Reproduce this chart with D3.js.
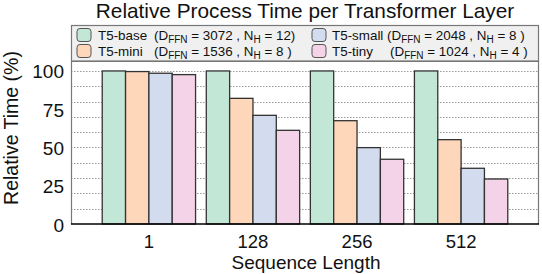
<!DOCTYPE html>
<html>
<head>
<meta charset="utf-8">
<script src="https://cdn.jsdelivr.net/npm/d3@7"></script>
<style>
  body { margin: 0; background: #fff; }
  text { font-family: "Liberation Sans", Arial, sans-serif; fill: #111; }
</style>
</head>
<body>
<script>
// data
const lengths = ['1', '128', '256', '512'];
const models = ['T5-base', 'T5-mini', 'T5-small', 'T5-tiny'];
const dffn = ['3072', '1536', '2048', '1024'];
const nh = ['12', '8 ', '8 ', '4 '];
const base = [100, 100, 100, 100];
const mini = [99.6, 82.1, 67.5, 55.1];
const small = [98.5, 71.0, 49.9, 36.4];
const tiny = [97.6, 61.2, 42.3, 29.4];
const yTicks = [0, 25, 50, 75, 100];
const gridTicks = [10, 20, 30, 40, 50, 60, 70, 80, 90, 100];

const colors = ['#c3e7d7', '#fed6b9', '#d3dcee', '#f4d3e8'];
const series = [base, mini, small, tiny];

const WIDTH = 542, HEIGHT = 274;
const MARGIN = {top: 61, bottom: 50, left: 71, right: 3};

const svg = d3.select('body').append('svg')
    .attr('width', WIDTH)
    .attr('height', HEIGHT);

const xScale = d3.scaleBand()
    .domain(lengths)
    .range([MARGIN.left, WIDTH - MARGIN.right])
    .paddingInner(0.103)
    .paddingOuter(0.30);

const inner = d3.scaleBand()
    .domain(models)
    .range([0, xScale.bandwidth()]);

const yScale = d3.scaleLinear()
    .domain([0, 106.5])
    .range([HEIGHT - MARGIN.bottom, MARGIN.top]);

// dotted grid lines
svg.append('g')
   .selectAll('line')
   .data(gridTicks)
   .enter()
   .append('line')
   .attr('x1', MARGIN.left)
   .attr('x2', WIDTH - MARGIN.right)
   .attr('y1', d => Math.round(yScale(d)) + 0.5)
   .attr('y2', d => Math.round(yScale(d)) + 0.5)
   .attr('stroke', '#999')
   .attr('stroke-width', 1)
   .attr('stroke-dasharray', '1.5,1.5');

// frame (left, top, right)
svg.append('path')
   .attr('d', 'M' + (MARGIN.left + 0.5) + ',' + (HEIGHT - MARGIN.bottom) +
              'V' + (MARGIN.top + 0.5) + 'H' + (WIDTH - MARGIN.right - 0.5) +
              'V' + (HEIGHT - MARGIN.bottom))
   .attr('fill', 'none')
   .attr('stroke', '#777')
   .attr('stroke-width', 1.2);

// bars
lengths.forEach((len, i) => {
    svg.append('g')
       .selectAll('rect')
       .data(series.map((s, j) => ({model: models[j], value: s[i], color: colors[j]})))
       .enter()
       .append('rect')
       .attr('x', d => xScale(len) + inner(d.model))
       .attr('y', d => yScale(d.value))
       .attr('width', inner.bandwidth())
       .attr('height', d => yScale(0) - yScale(d.value))
       .attr('fill', d => d.color)
       .attr('stroke', '#333')
       .attr('stroke-width', 1.3);
});

// bottom axis line
svg.append('line')
   .attr('x1', MARGIN.left)
   .attr('x2', WIDTH - MARGIN.right)
   .attr('y1', yScale(0))
   .attr('y2', yScale(0))
   .attr('stroke', '#000')
   .attr('stroke-width', 1.5);

// x tick labels
svg.append('g')
   .selectAll('text')
   .data(lengths)
   .enter()
   .append('text')
   .attr('x', d => xScale(d) + xScale.bandwidth() / 2)
   .attr('y', yScale(0) + 24)
   .attr('text-anchor', 'middle')
   .style('font-size', '18.5px')
   .text(d => d);

// y tick labels
svg.append('g')
   .selectAll('text')
   .data(yTicks)
   .enter()
   .append('text')
   .attr('x', MARGIN.left - 7)
   .attr('y', d => yScale(d) + 7.5)
   .attr('text-anchor', 'end')
   .style('font-size', '19px')
   .text(d => d);

// axis titles
svg.append('text')
   .attr('x', 306)
   .attr('y', 269)
   .attr('text-anchor', 'middle')
   .style('font-size', '19px')
   .text('Sequence Length');

svg.append('text')
   .attr('transform', 'translate(18,128) rotate(-90)')
   .attr('text-anchor', 'middle')
   .style('font-size', '19.5px')
   .text('Relative Time (%)');

// title
svg.append('text')
   .attr('x', 305)
   .attr('y', 18)
   .attr('text-anchor', 'middle')
   .style('font-size', '20.8px')
   .text('Relative Process Time per Transformer Layer');

// legend box
const legend = svg.append('g');
legend.append('rect')
   .attr('x', MARGIN.left + 0.5)
   .attr('y', 25.5)
   .attr('width', WIDTH - MARGIN.right - MARGIN.left - 1)
   .attr('height', MARGIN.top - 25.5)
   .attr('fill', '#f0f0f0')
   .attr('stroke', '#777')
   .attr('stroke-width', 1.2);

// legend layout: column-major, two rows
const legendCols = [{sw: 77, name: 98, paren: 154}, {sw: 312, name: 332, paren: 387}];
models.forEach((m, j) => {
    const col = legendCols[Math.floor(j / 2)];
    const row = j % 2;
    const cy = 35 + row * 16;
    legend.append('rect')
       .attr('x', col.sw)
       .attr('y', cy - 6.5)
       .attr('width', 14)
       .attr('height', 13)
       .attr('rx', 3)
       .attr('fill', colors[j])
       .attr('stroke', '#555')
       .attr('stroke-width', 1);
    legend.append('text')
       .attr('x', col.name)
       .attr('y', cy + 4.5)
       .style('font-size', '13.4px')
       .text(m);
    const t = legend.append('text')
       .attr('x', j === 3 ? col.paren + 3 : col.paren)
       .attr('y', cy + 4.5)
       .style('font-size', '13.4px')
       .attr('xml:space', 'preserve');
    t.append('tspan').text('(D');
    t.append('tspan').attr('dy', 3).style('font-size', '10px').text('FFN');
    t.append('tspan').attr('dy', -3).text(' = ' + dffn[j] + ' , N');
    t.append('tspan').attr('dy', 3).style('font-size', '10px').text('H');
    t.append('tspan').attr('dy', -3).text(' = ' + nh[j] + ')');
});
</script>
</body>
</html>
